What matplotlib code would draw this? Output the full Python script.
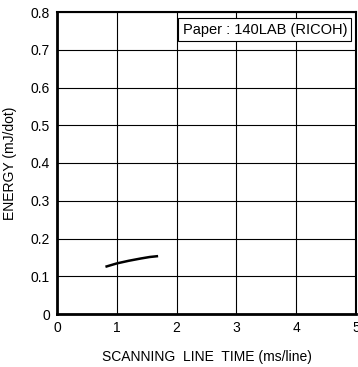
import numpy as np
import matplotlib
matplotlib.use('Agg')
import matplotlib.pyplot as plt

plt.rcParams['font.family'] = ['Liberation Sans', 'DejaVu Sans']

# Data
scan_time = [0.83, 1.0, 1.2, 1.4, 1.55, 1.67]
energy = [0.126, 0.134, 0.141, 0.147, 0.151, 0.153]

x_ticks = [0, 1, 2, 3, 4, 5]
y_ticks = [0, 0.1, 0.2, 0.3, 0.4, 0.5, 0.6, 0.7, 0.8]
y_tick_labels = ['0', '0.1', '0.2', '0.3', '0.4', '0.5', '0.6', '0.7', '0.8']

fig = plt.figure(figsize=(3.58, 3.67), dpi=100)
ax = fig.add_axes([57 / 358, 1 - 314 / 367, 299 / 358, 302 / 367])

ax.plot(scan_time, energy, color='black', linewidth=1.8)

ax.set_xlim(0, 5)
ax.set_ylim(0, 0.8)
ax.set_xticks(x_ticks)
ax.set_yticks(y_ticks)
ax.set_yticklabels(y_tick_labels)
ax.tick_params(length=0, labelsize=10, pad=5)
ax.grid(True, color='black', linewidth=0.8)

for side in ['left', 'bottom']:
    ax.spines[side].set_linewidth(2.0)
for side in ['top', 'right']:
    ax.spines[side].set_linewidth(1.5)

ax.set_xlabel('SCANNING  LINE  TIME (ms/line)', fontsize=10, labelpad=11)
ax.set_ylabel('ENERGY (mJ/dot)', fontsize=10, labelpad=10)

ax.text(0.97, 0.965, 'Paper : 140LAB (RICOH)', transform=ax.transAxes,
        ha='right', va='top', fontsize=10.5,
        bbox=dict(boxstyle='square,pad=0.3', facecolor='white',
                  edgecolor='black', linewidth=0.8))

plt.savefig('out.png', dpi=100)
